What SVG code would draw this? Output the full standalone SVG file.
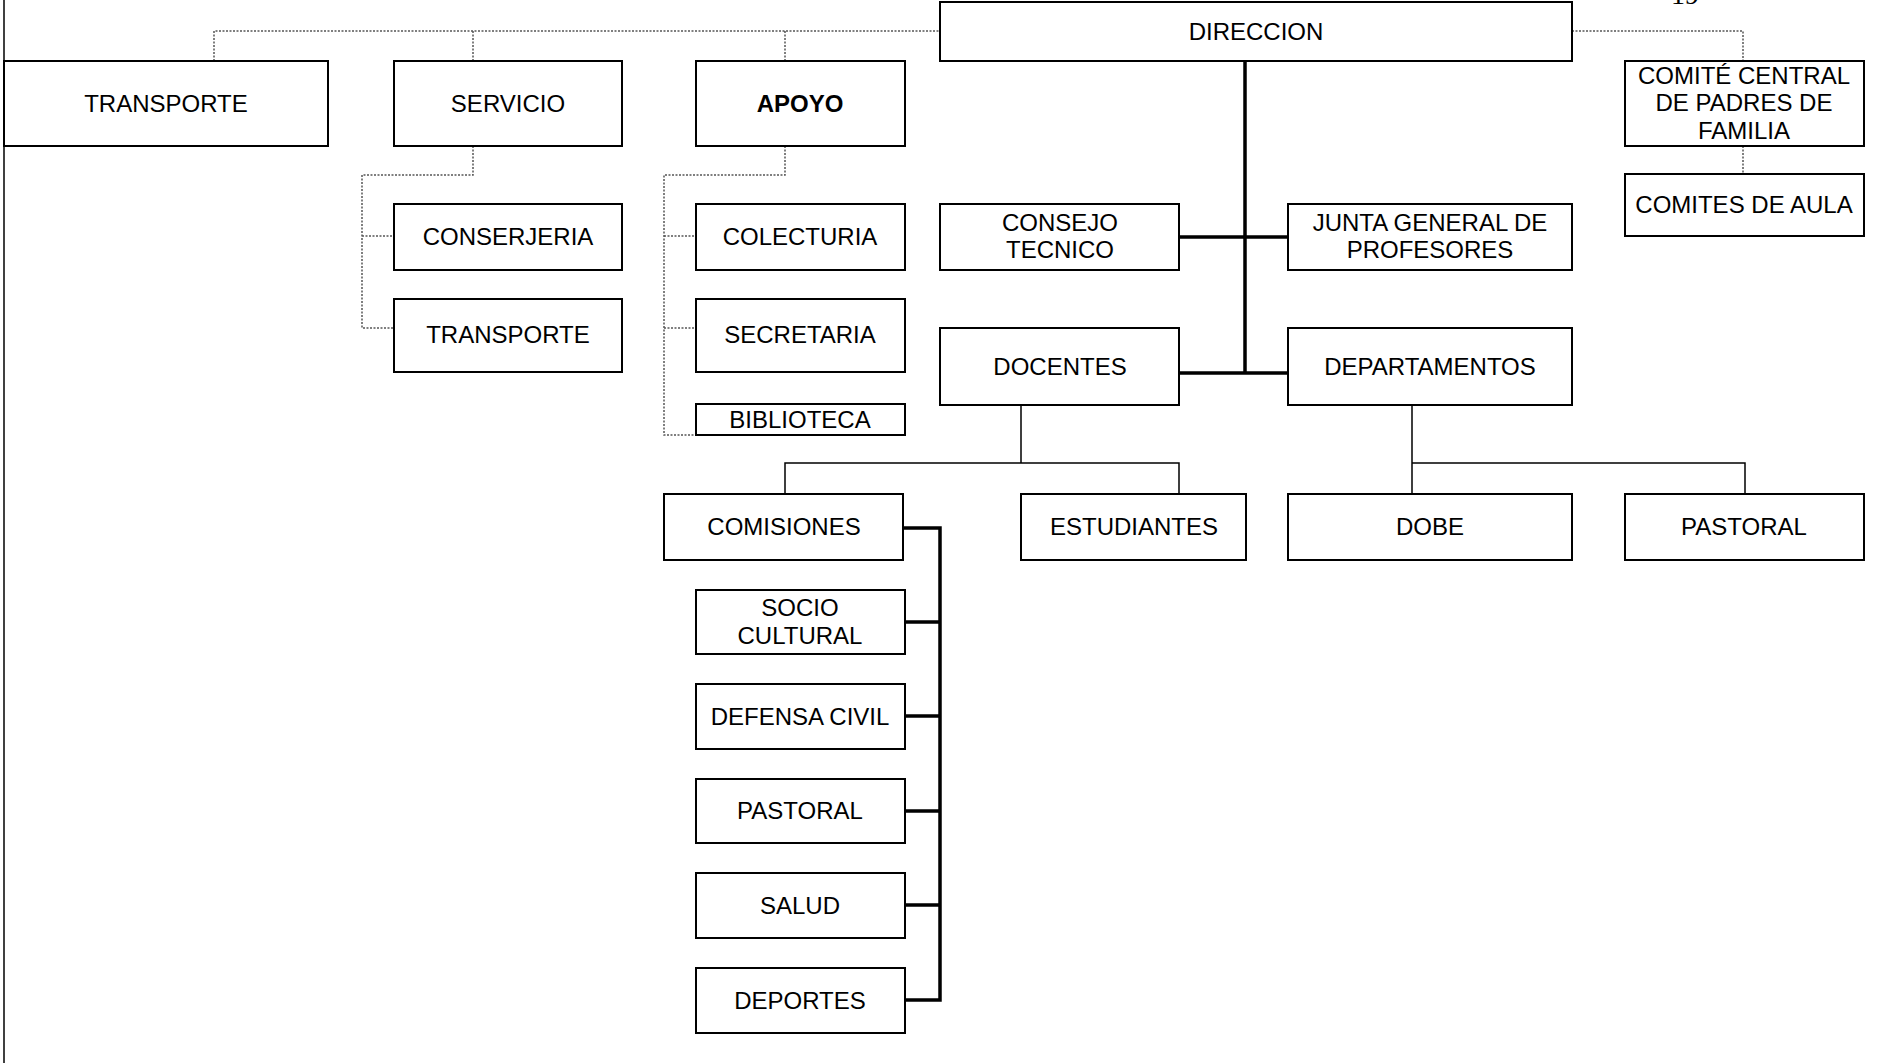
<svg xmlns="http://www.w3.org/2000/svg" width="1880" height="1063" viewBox="0 0 1880 1063">
<style>
.box{fill:#fff;stroke:#000;stroke-width:2}
.t{font-family:"Liberation Sans",Arial,sans-serif;font-size:24px;fill:#000;text-anchor:middle}
.b{font-weight:bold}
.dot{fill:none;stroke:#555;stroke-width:1.5;stroke-dasharray:2 1.5}
.thin{fill:none;stroke:#000;stroke-width:1.5}
.thick{fill:none;stroke:#000;stroke-width:3.5}
</style>
<rect x="0" y="0" width="1880" height="1063" fill="#fff"/>
<line x1="4" y1="0" x2="4" y2="1063" stroke="#000" stroke-width="1.5"/>
<text x="1685" y="4" font-family="'Liberation Serif',serif" font-size="28" text-anchor="middle">19</text>
<g id="connectors">
  <path class="dot" d="M214,61V31H940M473,31V61M785,31V61"/>
  <path class="dot" d="M1572,31H1743V61M1743,146V174"/>
  <path class="dot" d="M473,146V175H362V328H394M362,236H394"/>
  <path class="dot" d="M785,146V175H664V435H696M664,236H696M664,328H696"/>
  <path class="thick" d="M1245,61V373M1179,237H1288M1179,373H1288"/>
  <path class="thin" d="M1021,405V463M785,494V463H1179V494"/>
  <path class="thin" d="M1412,405V494M1412,463H1745V494"/>
  <path class="thick" d="M903,528H940V1000H904M904,622H940M904,716H940M904,811H940M904,905H940"/>
</g>
<g id="direccion"><rect class="box" x="940" y="2" width="632" height="59"/><text class="t" x="1256" y="40">DIRECCION</text></g>
<g id="transporte"><rect class="box" x="4" y="61" width="324" height="85"/><text class="t" x="166" y="112">TRANSPORTE</text></g>
<g id="servicio"><rect class="box" x="394" y="61" width="228" height="85"/><text class="t" x="508" y="112">SERVICIO</text></g>
<g id="apoyo"><rect class="box" x="696" y="61" width="209" height="85"/><text class="t b" x="800" y="112">APOYO</text></g>
<g id="comite-central"><rect class="box" x="1625" y="61" width="239" height="85"/><text class="t" x="1744" y="84">COMITÉ CENTRAL</text><text class="t" x="1744" y="111">DE PADRES DE</text><text class="t" x="1744" y="139">FAMILIA</text></g>
<g id="comites-aula"><rect class="box" x="1625" y="174" width="239" height="62"/><text class="t" x="1744" y="213">COMITES DE AULA</text></g>
<g id="conserjeria"><rect class="box" x="394" y="204" width="228" height="66"/><text class="t" x="508" y="245">CONSERJERIA</text></g>
<g id="transporte2"><rect class="box" x="394" y="299" width="228" height="73"/><text class="t" x="508" y="343">TRANSPORTE</text></g>
<g id="colecturia"><rect class="box" x="696" y="204" width="209" height="66"/><text class="t" x="800" y="245">COLECTURIA</text></g>
<g id="secretaria"><rect class="box" x="696" y="299" width="209" height="73"/><text class="t" x="800" y="343">SECRETARIA</text></g>
<g id="biblioteca"><rect class="box" x="696" y="404" width="209" height="31"/><text class="t" x="800" y="428">BIBLIOTECA</text></g>
<g id="consejo"><rect class="box" x="940" y="204" width="239" height="66"/><text class="t" x="1060" y="231">CONSEJO</text><text class="t" x="1060" y="258">TECNICO</text></g>
<g id="junta"><rect class="box" x="1288" y="204" width="284" height="66"/><text class="t" x="1430" y="231">JUNTA GENERAL DE</text><text class="t" x="1430" y="258">PROFESORES</text></g>
<g id="docentes"><rect class="box" x="940" y="328" width="239" height="77"/><text class="t" x="1060" y="375">DOCENTES</text></g>
<g id="departamentos"><rect class="box" x="1288" y="328" width="284" height="77"/><text class="t" x="1430" y="375">DEPARTAMENTOS</text></g>
<g id="comisiones"><rect class="box" x="664" y="494" width="239" height="66"/><text class="t" x="784" y="535">COMISIONES</text></g>
<g id="estudiantes"><rect class="box" x="1021" y="494" width="225" height="66"/><text class="t" x="1134" y="535">ESTUDIANTES</text></g>
<g id="dobe"><rect class="box" x="1288" y="494" width="284" height="66"/><text class="t" x="1430" y="535">DOBE</text></g>
<g id="pastoral1"><rect class="box" x="1625" y="494" width="239" height="66"/><text class="t" x="1744" y="535">PASTORAL</text></g>
<g id="socio"><rect class="box" x="696" y="590" width="209" height="64"/><text class="t" x="800" y="616">SOCIO</text><text class="t" x="800" y="644">CULTURAL</text></g>
<g id="defensa"><rect class="box" x="696" y="684" width="209" height="65"/><text class="t" x="800" y="725">DEFENSA CIVIL</text></g>
<g id="pastoral2"><rect class="box" x="696" y="779" width="209" height="64"/><text class="t" x="800" y="819">PASTORAL</text></g>
<g id="salud"><rect class="box" x="696" y="873" width="209" height="65"/><text class="t" x="800" y="914">SALUD</text></g>
<g id="deportes"><rect class="box" x="696" y="968" width="209" height="65"/><text class="t" x="800" y="1009">DEPORTES</text></g>
</svg>
